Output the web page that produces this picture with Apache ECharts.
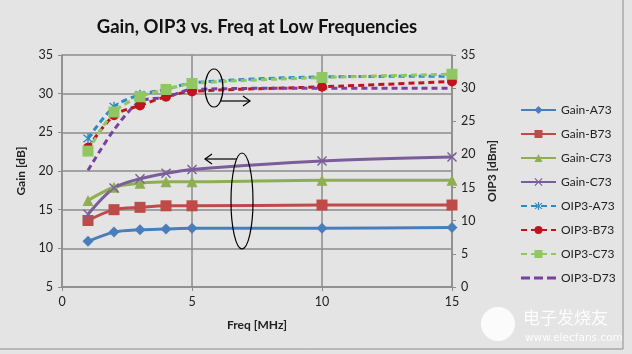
<!DOCTYPE html>
<html>
<head>
<meta charset="utf-8">
<script src="https://cdn.jsdelivr.net/npm/echarts@6/dist/echarts.min.js"></script>
<style>
html,body{margin:0;padding:0;background:#e4e4e4;}
#chart{width:632px;height:354px;}
</style>
</head>
<body>
<div id="chart"></div>
<script>
// frequencies (MHz)
var freqs = [1, 2, 3, 4, 5, 10, 15];
// gain [dB], left axis
var gainA73 = [10.9, 12.1, 12.4, 12.5, 12.6, 12.6, 12.7];
var gainB73 = [13.6, 15.0, 15.3, 15.5, 15.5, 15.6, 15.6];
var gainC73 = [16.2, 17.9, 18.4, 18.6, 18.6, 18.8, 18.8];
var gainC73b = [14.4, 17.8, 19.0, 19.7, 20.2, 21.3, 21.8];
// OIP3 [dBm], right axis
var oipA73 = [22.4, 27.2, 29.0, 29.8, 30.8, 31.7, 31.8];
var oipB73 = [21.0, 25.9, 27.4, 28.7, 29.5, 30.2, 31.0];
var oipC73 = [20.5, 26.4, 28.7, 29.8, 30.7, 31.6, 32.1];
var oipD73 = [17.6, 23.7, 28.0, 28.6, 29.8, 30.0, 30.0];

var legendNames = ['Gain-A73', 'Gain-B73', 'Gain-C73', 'Gain-C73 ', 'OIP3-A73', 'OIP3-B73', 'OIP3-C73', 'OIP3-D73'];

var xSym = 'path://M0,1L1,0L5,4L9,0L10,1L6,5L10,9L9,10L5,6L1,10L0,9L4,5Z';
var starSym = 'path://M0,1L1,0L5,4L9,0L10,1L6,5L10,9L9,10L5,6L1,10L0,9L4,5ZM4.3,-1L5.7,-1L5.7,11L4.3,11Z';
// dashed line icon for the marker-less series
var dashIcon = 'path://M0,0L0.1,0L0,0.1ZM35,10L34.9,10L35,9.9ZM0,3.5L9,3.5L9,6.5L0,6.5ZM13,3.5L22,3.5L22,6.5L13,6.5ZM26,3.5L35,3.5L35,6.5L26,6.5Z';

function pts(arr){
  return freqs.map(function(f, i){ return [f, arr[i]]; });
}

function mk(name, data, color, axis, symbol, size, dashed){
  return {
    name: name,
    type: 'line',
    yAxisIndex: axis,
    data: pts(data),
    smooth: 0.3,
    symbol: symbol,
    symbolSize: size,
    showSymbol: symbol !== 'none',
    lineStyle: {color: color, width: 3, type: dashed ? [6, 4] : 'solid'},
    itemStyle: {color: color},
    emphasis: {disabled: true},
    z: dashed ? 3 : 2
  };
}

var chart = echarts.init(document.getElementById('chart'));
var font = 'Lato, "Open Sans", sans-serif';

chart.setOption({
  backgroundColor: '#e4e4e4',
  animation: false,
  textStyle: {fontFamily: font},
  title: {
    text: 'Gain, OIP3 vs. Freq at Low Frequencies',
    left: 252, top: 13, textAlign: 'center',
    textStyle: {fontSize: 18.5, fontWeight: 'bold', color: '#111', fontFamily: font}
  },
  grid: {left: 62, right: 180, top: 55, bottom: 67},
  legend: {
    orient: 'vertical',
    left: 515, top: 99,
    itemWidth: 35, itemHeight: 10, itemGap: 12,
    data: legendNames.map(function(n){
      return n === 'OIP3-D73' ? {name: n, icon: dashIcon} : n;
    }),
    textStyle: {fontSize: 12, color: '#222', fontFamily: font}
  },
  xAxis: {
    type: 'value', min: 0, max: 15, interval: 5,
    name: 'Freq [MHz]', nameLocation: 'middle', nameGap: 32,
    nameTextStyle: {fontWeight: 'bold', fontSize: 12, color: '#222'},
    axisLine: {lineStyle: {color: '#8c8c8c', width: 1.5}},
    axisTick: {show: true, length: 4, lineStyle: {color: '#8c8c8c'}},
    axisLabel: {fontSize: 12.5, color: '#222', margin: 8},
    splitLine: {show: true, lineStyle: {color: '#8c8c8c', width: 1.5}}
  },
  yAxis: [{
    type: 'value', min: 5, max: 35, interval: 5,
    name: 'Gain [dB]', nameLocation: 'middle', nameGap: 30,
    nameTextStyle: {fontWeight: 'bold', fontSize: 12, color: '#222'},
    axisLine: {show: true, lineStyle: {color: '#8c8c8c', width: 1.5}},
    axisTick: {show: true, length: 4, lineStyle: {color: '#8c8c8c'}},
    axisLabel: {fontSize: 12.5, color: '#222', margin: 9},
    splitLine: {show: true, lineStyle: {color: '#8c8c8c', width: 1.5}}
  }, {
    type: 'value', min: 0, max: 35, interval: 5, position: 'right',
    name: 'OIP3 [dBm]', nameLocation: 'middle', nameGap: 32,
    nameTextStyle: {fontWeight: 'bold', fontSize: 12, color: '#222'},
    axisLine: {show: true, lineStyle: {color: '#8c8c8c', width: 1.5}},
    axisTick: {show: true, length: 4, lineStyle: {color: '#8c8c8c'}},
    axisLabel: {fontSize: 12.5, color: '#222', margin: 9},
    splitLine: {show: false}
  }],
  series: [
    mk('Gain-A73', gainA73, '#4a7ebb', 0, 'diamond', 11, false),
    mk('Gain-B73', gainB73, '#be4b48', 0, 'rect', 11, false),
    mk('Gain-C73', gainC73, '#8fae53', 0, 'triangle', 11, false),
    mk('Gain-C73 ', gainC73b, '#7a5d9a', 0, xSym, 10, false),
    mk('OIP3-A73', oipA73, '#2e8ac2', 1, starSym, 10, true),
    mk('OIP3-B73', oipB73, '#c0141c', 1, 'circle', 10, true),
    mk('OIP3-C73', oipC73, '#8fc761', 1, 'rect', 11, true),
    mk('OIP3-D73', oipD73, '#7b3f9e', 1, 'none', 6, true)
  ],
  graphic: [
    {type: 'line', shape: {x1: 623, y1: 0, x2: 623, y2: 349}, style: {stroke: '#8c8c8c', lineWidth: 1}},
    {type: 'line', shape: {x1: 0, y1: 349, x2: 623, y2: 349}, style: {stroke: '#8c8c8c', lineWidth: 1}},
    {type: 'ellipse', shape: {cx: 214, cy: 88, rx: 9, ry: 19}, style: {fill: 'none', stroke: '#000', lineWidth: 1.2}, z: 10},
    {type: 'polyline', shape: {points: [[221, 101], [250, 101]]}, style: {stroke: '#000', lineWidth: 1.2, fill: 'none'}, z: 10},
    {type: 'polyline', shape: {points: [[243, 96], [250, 101], [243, 106]]}, style: {stroke: '#000', lineWidth: 1.2, fill: 'none'}, z: 10},
    {type: 'ellipse', shape: {cx: 242, cy: 201, rx: 11, ry: 48}, style: {fill: 'none', stroke: '#000', lineWidth: 1.2}, z: 10},
    {type: 'polyline', shape: {points: [[237, 159], [205, 159]]}, style: {stroke: '#000', lineWidth: 1.2, fill: 'none'}, z: 10},
    {type: 'polyline', shape: {points: [[212, 154], [205, 159], [212, 164]]}, style: {stroke: '#000', lineWidth: 1.2, fill: 'none'}, z: 10},
    {type: 'circle', shape: {cx: 498, cy: 324, r: 17}, style: {fill: 'rgba(255,255,255,0.85)'}, z: 10},
    {type: 'text', left: 523, top: 309, style: {text: '电子发烧友', fill: 'rgba(255,255,255,0.9)', font: '17px "Noto Sans CJK SC"'}, z: 10},
    {type: 'text', left: 525, top: 333, style: {text: 'www.elecfans.com', fill: 'rgba(255,255,255,0.9)', font: '10.5px "DejaVu Sans"'}, z: 10}
  ]
});
</script>
</body>
</html>
